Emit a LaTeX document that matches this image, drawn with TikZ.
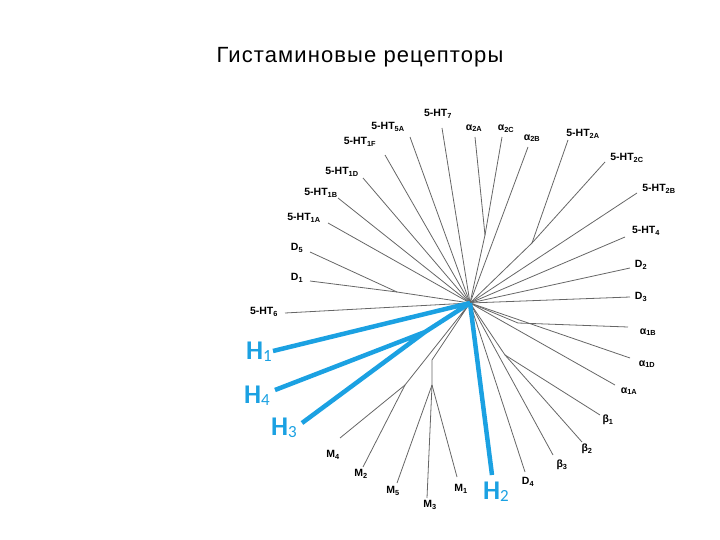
\documentclass[tikz,border=0pt]{standalone}
\usepackage{fontspec}
\setmainfont{Liberation Sans}
\newfontfamily\titlefont[LetterSpace=5]{Liberation Sans}
\newfontfamily\hfont{Carlito}
\definecolor{hblue}{RGB}{27,161,226}
\newcommand\hsub[1]{\raisebox{-2pt}{\fontsize{17}{17}\selectfont\mdseries #1}}
\tikzset{
    leaf/.style={font=\fontsize{10.5}{12}\selectfont\bfseries, inner sep=0pt},
    hlabel/.style={font=\hfont\fontsize{27}{30}\selectfont\bfseries, text=hblue, inner sep=0pt},
    branch/.style={draw=black!60, line width=0.8pt},
    hbranch/.style={draw=hblue, line width=4.5pt, line join=round},
}
\begin{document}
\begin{tikzpicture}[x=1pt,y=-1pt]
    \useasboundingbox (0,0) rectangle (720,540);
    \node[font=\titlefont\fontsize{22}{26}\selectfont] (title) at (360,57) {Гистаминовые рецепторы};
    % inner branch points
    \coordinate (hub) at (470,303);
    \coordinate (nD) at (397,292);
    \coordinate (nA2) at (485,235);
    \coordinate (n2) at (532,243);
    \coordinate (nA1) at (518,323);
    \coordinate (nB) at (505,355);
    \coordinate (nM2) at (405,385);
    \coordinate (nM1) at (432,385);
    \coordinate (nM0) at (432,360);
    \coordinate (nH) at (425,332);
    % leaves: name / tip / label / text / parent
    \foreach \n/\tx/\ty/\lx/\ly/\t/\p in {
        ht7/442/128/438/114/5-HT\textsubscript{7}/hub,
        ht5a/410/137/388/127/5-HT\textsubscript{5A}/hub,
        ht1f/385/155/360/142/5-HT\textsubscript{1F}/hub,
        ht1d/363/178/342/172/5-HT\textsubscript{1D}/hub,
        ht1b/338/198/321/193/5-HT\textsubscript{1B}/hub,
        ht1a/328/223/304/218/5-HT\textsubscript{1A}/hub,
        d5/310/252/297/248/D\textsubscript{5}/nD,
        d1/310/281/297/278/D\textsubscript{1}/nD,
        ht6/285/313/264/312/5-HT\textsubscript{6}/hub,
        a2a/475/137/474/128/α\textsubscript{2A}/nA2,
        a2c/502/137/506/129/α\textsubscript{2C}/nA2,
        a2b/528/147/532/138/α\textsubscript{2B}/hub,
        ht2a/568/140/583/134/5-HT\textsubscript{2A}/n2,
        ht2c/605/162/627/158/5-HT\textsubscript{2C}/n2,
        ht2b/637/193/659/189/5-HT\textsubscript{2B}/hub,
        ht4/625/237/646/231/5-HT\textsubscript{4}/hub,
        d2/630/268/641/265/D\textsubscript{2}/hub,
        d3/630/297/641/297/D\textsubscript{3}/hub,
        a1b/628/327/648/332/α\textsubscript{1B}/nA1,
        a1d/630/358/647/364/α\textsubscript{1D}/hub,
        a1a/615/385/629/391/α\textsubscript{1A}/hub,
        b1/600/415/608/420/β\textsubscript{1}/nB,
        b2/582/442/587/449/β\textsubscript{2}/nB,
        b3/553/455/562/465/β\textsubscript{3}/hub,
        d4/525/472/528/482/D\textsubscript{4}/hub,
        m4/340/438/333/455/M\textsubscript{4}/nM2,
        m2/363/467/361/474/M\textsubscript{2}/nM2,
        m5/397/483/393/491/M\textsubscript{5}/nM1,
        m3/427/498/430/505/M\textsubscript{3}/nM1,
        m1/457/477/461/489/M\textsubscript{1}/nM1}
    {
        \coordinate (t\n) at (\tx,\ty);
        \node[leaf] (l\n) at (\lx,\ly) {\t};
        \draw[branch] (t\n) -- (\p);
    }
    \draw[branch] (nD) -- (hub) (nA2) -- (hub) (n2) -- (hub) (nA1) -- (hub)
        (nB) -- (hub) (nM2) -- (hub) (nM1) -- (nM0) -- (hub);
    % histamine receptors
    \coordinate (tH1) at (273,351);
    \coordinate (tH4) at (275,390);
    \coordinate (tH3) at (302,423);
    \coordinate (tH2) at (492,475);
    \node[hlabel] (lH1) at (259,352) {H\hsub{1}};
    \node[hlabel] (lH4) at (257,396) {H\hsub{4}};
    \node[hlabel] (lH3) at (284,428) {H\hsub{3}};
    \node[hlabel] (lH2) at (496,492) {H\hsub{2}};
    \draw[hbranch] (tH1) -- (hub) (tH4) -- (nH) -- (hub) (tH3) -- (nH) (tH2) -- (hub);
\end{tikzpicture}
\end{document}
